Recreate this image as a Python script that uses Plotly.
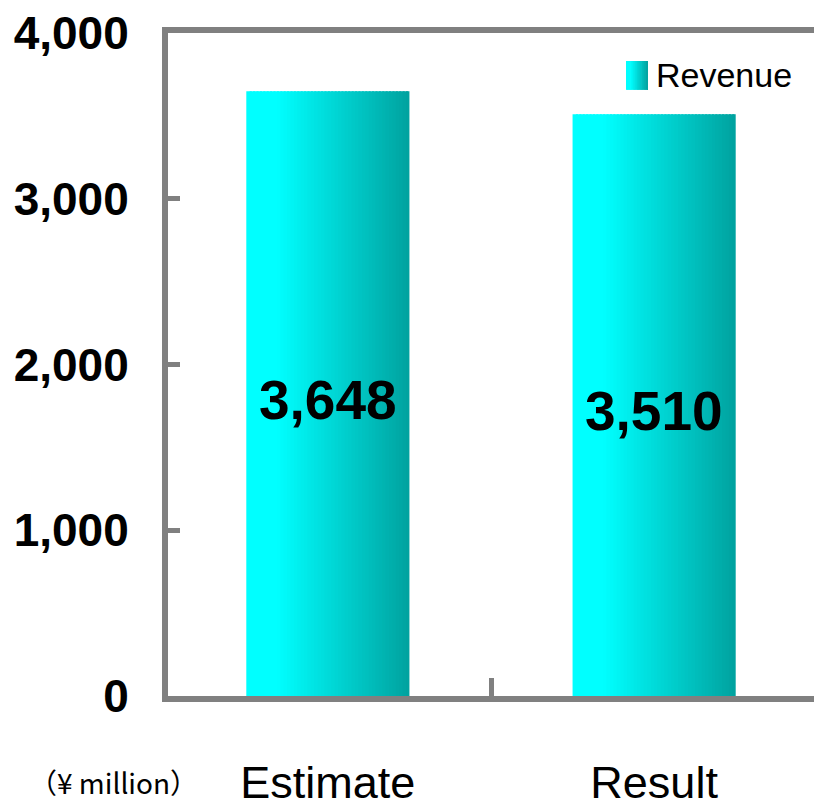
import plotly.graph_objects as go
from plotly.colors import sample_colorscale

# Data
categories = ["Estimate", "Result"]
revenue = [3648, 3510]
series_name = "Revenue"
y_ticks = [0, 1000, 2000, 3000, 4000]
unit_label = "（¥ million）"

# Styling
AXIS_GRAY = "#808080"
FONT = "Liberation Sans, Arial, sans-serif"
GRADIENT = [[0.0, "#00FFFF"], [0.18, "#00FFFF"], [1.0, "#00A3A0"]]
BAR_WIDTH = 0.5
N_SLICES = 48

fig = go.Figure()

# Bars with a horizontal gradient: narrow overlapping slices, each coloured
# from the colour scale, drawn across the bar width.
slice_w = BAR_WIDTH / N_SLICES
slice_colors = sample_colorscale(GRADIENT, [i / (N_SLICES - 1) for i in range(N_SLICES)])
for i, col in enumerate(slice_colors):
    fig.add_trace(go.Bar(
        x=categories,
        y=revenue,
        offset=-BAR_WIDTH / 2 + i * slice_w,
        width=slice_w * (1.6 if i < N_SLICES - 1 else 1.0),
        marker=dict(color=col, line=dict(width=0)),
        name=series_name,
        showlegend=False,
        hoverinfo="skip",
    ))

annotations = []

# Value labels in the middle of each bar
for cat, v in zip(categories, revenue):
    annotations.append(dict(
        x=cat, y=v / 2, xref="x", yref="y", yshift=-6,
        text=f"{v:,}", showarrow=False,
        xanchor="center", yanchor="middle",
        font=dict(family=FONT, size=55, color="#000000", weight="bold"),
    ))

# Legend key: gradient swatch plus series name
key_x0, key_x1, key_y0, key_y1 = 0.709, 0.743, 0.9142, 0.9578
n_key = 16
key_colors = sample_colorscale(GRADIENT, [i / (n_key - 1) for i in range(n_key)])
kw = (key_x1 - key_x0) / n_key
shapes = []
for i, col in enumerate(key_colors):
    shapes.append(dict(
        type="rect", xref="paper", yref="paper",
        x0=key_x0 + i * kw, x1=key_x0 + (i + 1.5 if i < n_key - 1 else i + 1) * kw,
        y0=key_y0, y1=key_y1,
        line=dict(width=0), fillcolor=col, layer="above",
    ))

annotations += [
    dict(text=series_name, xref="paper", yref="paper", x=0.753, y=0.936,
         xanchor="left", yanchor="middle", showarrow=False,
         font=dict(family=FONT, size=34, color="#000000")),
    dict(text=unit_label, xref="paper", yref="paper", x=-0.085, y=-0.13,
         xanchor="center", yanchor="middle", showarrow=False,
         font=dict(family="Noto Sans CJK JP, Noto Sans, sans-serif", size=28, color="#000000")),
]

fig.update_layout(
    width=814,
    height=807,
    margin=dict(l=168, r=0, t=33, b=111, autoexpand=False),
    paper_bgcolor="#FFFFFF",
    plot_bgcolor="#FFFFFF",
    barmode="overlay",
    showlegend=False,
    shapes=shapes,
    annotations=annotations,
    xaxis=dict(
        type="category",
        range=[-0.49, 1.49],
        automargin=False,
        showline=True, linewidth=6, linecolor=AXIS_GRAY, mirror=True,
        ticks="inside", tickson="boundaries", ticklen=18, tickwidth=5, tickcolor=AXIS_GRAY,
        showgrid=False, zeroline=False,
        tickfont=dict(family=FONT, size=45, color="#000000"),
        ticklabelstandoff=42,
    ),
    yaxis=dict(
        range=[0, 4000],
        automargin=False,
        tickvals=y_ticks,
        tickformat=",",
        showline=True, linewidth=6, linecolor=AXIS_GRAY,
        ticks="inside", ticklen=12, tickwidth=5, tickcolor=AXIS_GRAY,
        showgrid=False, zeroline=False,
        tickfont=dict(family=FONT, size=46, color="#000000", weight="bold"),
        ticklabelstandoff=24,
    ),
)

fig.write_html("out.html")
